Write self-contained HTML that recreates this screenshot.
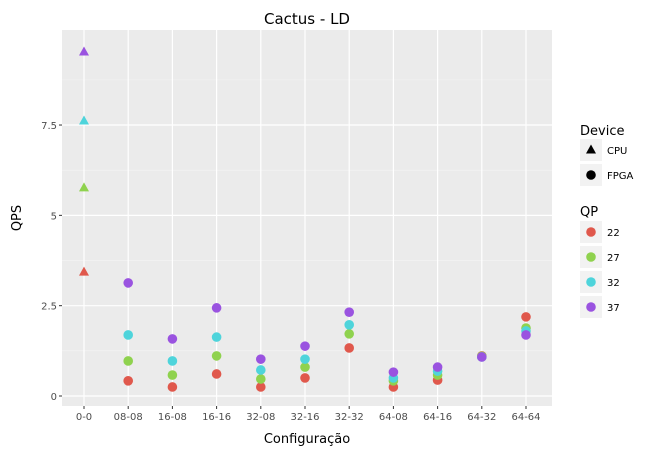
<!DOCTYPE html>
<html><head><meta charset="utf-8"><style>
body{margin:0;background:#fff;font-family:"Liberation Sans","DejaVu Sans",sans-serif}
svg text{font-family:"DejaVu Sans","Liberation Sans",sans-serif}
</style></head><body>
<svg id="c" width="665" height="456"></svg>
<script>
const categories=["0-0","08-08","16-08","16-16","32-08","32-16","32-32","64-08","64-16","64-32","64-64"];
const qpLevels=["22","27","32","37"];
const qpColors=["#e0584c","#8fd24e","#4ed4db","#9a53e0"];
const cpuValues=[3.43,5.76,7.61,9.52];
const fpga22=[0.42,0.25,0.61,0.25,0.5,1.33,0.25,0.44,1.11,2.19];
const fpga27=[0.97,0.58,1.11,0.47,0.8,1.72,0.42,0.58,1.1,1.88];
const fpga32=[1.69,0.97,1.63,0.72,1.02,1.97,0.5,0.69,1.08,1.8];
const fpga37=[3.13,1.58,2.44,1.02,1.38,2.32,0.66,0.8,1.08,1.69];
const yTicks=[0,2.5,5,7.5];
const yTickLabels=["0","2.5","5","7.5"];
const ns="http://www.w3.org/2000/svg",svg=document.getElementById("c");
const L=62,R=552,T=30,B=406;
const x=i=>84+i*44.2;
const y=v=>396-v*36.13;
function mk(t,a,p){const e=document.createElementNS(ns,t);for(const k in a)e.setAttribute(k,a[k]);(p||svg).appendChild(e);return e;}
let e=mk("rect",{x:L,y:T,width:R-L,height:B-T,fill:"#ebebeb"});


for(let v=1.25;v<10;v+=2.5){e=mk("line",{x1:L,x2:R,y1:y(v),y2:y(v),stroke:"#f5f5f5","stroke-width":0.6});}
yTicks.forEach((v,i)=>{
 e=mk("line",{x1:L,x2:R,y1:y(v),y2:y(v),stroke:"#fff","stroke-width":1.2});
 
 
 mk("line",{x1:L-3,x2:L,y1:y(v),y2:y(v),stroke:"#333"});
 e=mk("text",{x:L-5,y:y(v)+4,"text-anchor":"end","font-size":10,fill:"#4d4d4d"});e.textContent=yTickLabels[i];
 
 
});
categories.forEach((c,i)=>{
 e=mk("line",{x1:x(i),x2:x(i),y1:T,y2:B,stroke:"#fff","stroke-width":1.2});
 
 
 mk("line",{x1:x(i),x2:x(i),y1:B,y2:B+3,stroke:"#333"});
 e=mk("text",{x:x(i),y:B+14,"text-anchor":"middle","font-size":10,fill:"#4d4d4d"});e.textContent=c;
 
 
});
function tri(cx,cy,col){return mk("polygon",{points:`${cx},${cy-5.5} ${cx-5},${cy+3.5} ${cx+5},${cy+3.5}`,fill:col});}
cpuValues.forEach((v,j)=>{
 e=tri(x(0),y(v),qpColors[j]);
 
 
});
[fpga22,fpga27,fpga32,fpga37].forEach((arr,j)=>{
 arr.forEach((v,i)=>{
  e=mk("circle",{cx:x(i+1),cy:y(v),r:4.8,fill:qpColors[j]});
  
  
 });
});
e=mk("text",{x:307,y:24,"text-anchor":"middle","font-size":15,fill:"#000"});e.textContent="Cactus - LD";


e=mk("text",{x:307,y:443,"text-anchor":"middle","font-size":13,fill:"#000"});e.textContent="Configuração";


e=mk("text",{x:21,y:218,"text-anchor":"middle","font-size":13,fill:"#000",transform:"rotate(-90 21 218)"});e.textContent="QPS";


e=mk("text",{x:580,y:135,"font-size":13});e.textContent="Device";


[["CPU",150],["FPGA",175]].forEach(([t,yy],k)=>{
 mk("rect",{x:580,y:yy-11,width:22,height:22,fill:"#f2f2f2"});
 e=k==0?tri(591,yy,"#000"):mk("circle",{cx:591,cy:yy,r:4.8,fill:"#000"});
 e=mk("text",{x:607,y:yy+4,"font-size":10});e.textContent=t;
 
 
});
e=mk("text",{x:580,y:216,"font-size":13});e.textContent="QP";


qpLevels.forEach((q,j)=>{
 const yy=232+j*25;
 mk("rect",{x:580,y:yy-11,width:22,height:22,fill:"#f2f2f2"});
 mk("circle",{cx:591,cy:yy,r:4.8,fill:qpColors[j]});
 e=mk("text",{x:607,y:yy+4,"font-size":10});e.textContent=q;
 
 
});
</script>
</body></html>
